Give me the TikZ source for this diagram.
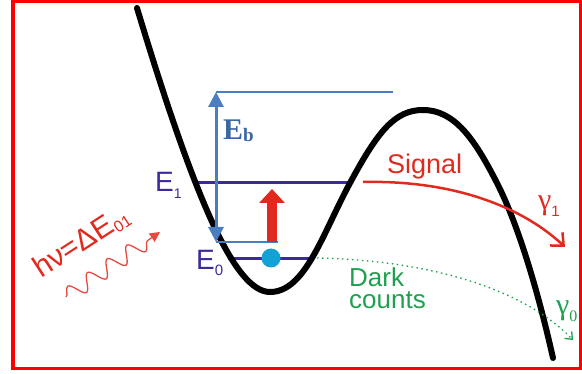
\documentclass[tikz,border=0pt]{standalone}
\usepackage{fontspec}
\setmainfont{Liberation Sans}
\newfontfamily\ebfont{Liberation Serif}
\usepackage{xcolor}
\usetikzlibrary{arrows.meta,decorations.pathmorphing}
\definecolor{barrier}{HTML}{4A7EC0}
\definecolor{ebtext}{HTML}{3A66A4}
\definecolor{level}{HTML}{3B2A9C}
\definecolor{sigred}{HTML}{E02A1E}
\definecolor{darkgreen}{HTML}{1EA050}
\definecolor{dotcyan}{HTML}{12A2D6}

\begin{document}
\begin{tikzpicture}[x=1pt, y=-1pt,
      every node/.style={inner sep=0pt},
      well/.style={line width=6pt, line cap=round},
      lvl/.style={draw=level, line width=3pt},
      thinblue/.style={draw=barrier, line width=1.6pt},
      lbl/.style={text=level, font=\fontsize{28}{28}\selectfont, anchor=base west},
      redlbl/.style={text=sigred, font=\fontsize{27}{27}\selectfont, anchor=base west},
      greenlbl/.style={text=darkgreen, font=\fontsize{26}{22}\selectfont},
      gam/.style={font=\ebfont\fontsize{30}{30}\selectfont, anchor=base west},
    ]
    \useasboundingbox (0,0) rectangle (582,374);

    % --- frame ---
    \draw[red, line width=3.5pt] (13,1.5) rectangle (580.5,368.5);

    % --- levels ---
    \coordinate (e1l) at (194,183);
    \coordinate (e1r) at (350,183);
    \coordinate (e0l) at (228,259);
    \coordinate (e0r) at (313,259);
    \draw[lvl] (e1l) -- (e1r);
    \draw[lvl] (e0l) -- (e0r);

    % --- potential well ---
    \draw[well] (137,8) .. controls (195,200) and (235,292) .. (270,292)
      .. controls (305,292) and (322,235) .. (350,183)
      .. controls (378,131) and (395,110) .. (423,110)
      .. controls (455,110) and (475,140) .. (497,183)
      .. controls (520,228) and (540,300) .. (553,358);

    % --- barrier height ---
    \coordinate (ebtop) at (216,92);
    \coordinate (ebend) at (393,92);
    \coordinate (ebbot) at (216,242);
    \coordinate (ebfoot) at (278,242);
    \draw[thinblue] (ebtop) -- (ebend);
    \draw[thinblue] (ebbot) -- (ebfoot);
    \draw[barrier, line width=3pt,
          {Triangle[length=15pt,width=15pt]}-{Triangle[length=15pt,width=15pt]}]
      (ebtop) -- (ebbot);
    \node[text=ebtext, font=\ebfont\bfseries\fontsize{30}{30}\selectfont, anchor=base west]
      (eblab) at (223,140) {E\raisebox{-2pt}{\fontsize{19}{19}\selectfont b}};

    % --- excitation ---
    \coordinate (exbot) at (272,242);
    \coordinate (extop) at (272,189);
    \draw[sigred, line width=10pt, -{Triangle[length=14pt,width=25pt]}] (exbot) -- (extop);
    \node[circle, fill=dotcyan, minimum size=19pt] (qubit) at (271,258) {};

    % --- signal ---
    \coordinate (sig0) at (363,182);
    \coordinate (sig1) at (565,247);
    \draw[sigred, line width=2.5pt, -{Straight Barb[length=10pt,width=18pt]}]
      (sig0) .. controls (450,180) and (520,205) .. (sig1);
    \node[redlbl] (siglab) at (387,174) {Signal};
    \node[gam, text=sigred] (g1lab) at (538,210)
      {γ\raisebox{-7pt}{\fontsize{15}{15}\selectfont\sffamily\rmfamily 1}};

    % --- dark counts ---
    \coordinate (dk0) at (317,258);
    \coordinate (dk1) at (573,340);
    \draw[darkgreen, line width=1.3pt, dash pattern=on 1.5pt off 3.5pt,
          -{Straight Barb[length=6pt,width=10pt]}]
      (dk0) .. controls (420,260) and (520,285) .. (dk1);
    \node[greenlbl, align=left, anchor=north west] (dklab) at (349,267) {Dark\\counts};
    \node[gam, text=darkgreen] (g0lab) at (556,315)
      {γ\raisebox{-7pt}{\fontsize{16}{16}\selectfont 0}};

    % --- labels of levels ---
    \node[lbl] (e1lab) at (155,192) {E\raisebox{-7pt}{\fontsize{14}{14}\selectfont 1}};
    \node[lbl] (e0lab) at (196,270) {E\raisebox{-6pt}{\fontsize{15}{15}\selectfont 0}};

    % --- photon ---
    \coordinate (w0) at (66,297);
    \coordinate (w1) at (160,232);
    \draw[sigred!85, line width=1.3pt, decorate,
          decoration={snake, amplitude=8pt, segment length=24pt, post length=8pt},
          -{Triangle[length=10pt,width=10pt]}] (w0) -- (w1);
    \node[text=sigred, rotate=33, anchor=base west, font=\fontsize{30}{30}\selectfont]
      (hnu) at (41,279) {hν=ΔE\raisebox{-4pt}{\fontsize{16}{16}\selectfont 01}};
  \end{tikzpicture}
\end{document}
